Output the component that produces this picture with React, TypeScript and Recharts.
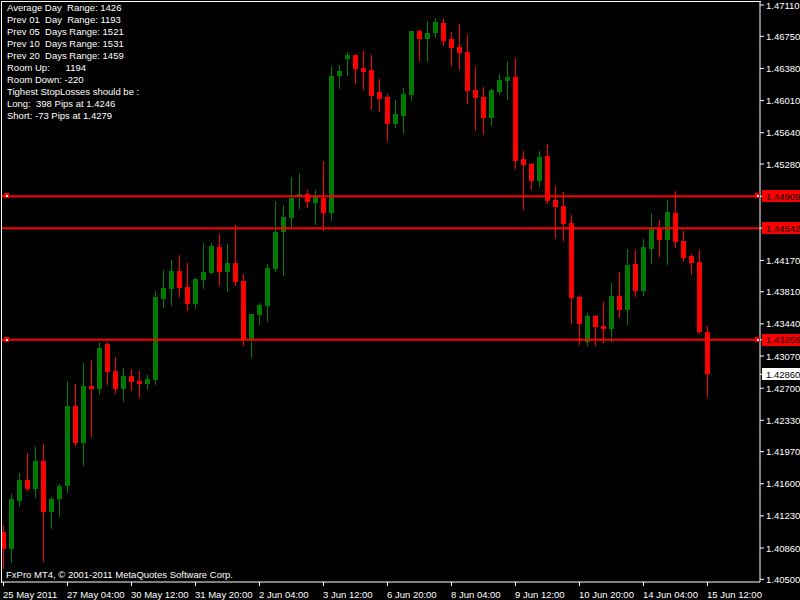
import { ComposedChart, Bar, XAxis, YAxis, ReferenceLine, ReferenceDot } from 'recharts';

// H4 bars, 25 May 2011 20:00 .. 15 Jun 2011 12:00
const opens = [
  1.4105, 1.4085, 1.4140, 1.4164, 1.4154, 1.4186, 1.4128, 1.4142, 1.4157, 1.4249,
  1.4207, 1.4272, 1.4269, 1.4321, 1.4290, 1.4269, 1.4284, 1.4278, 1.4275, 1.4279,
  1.4373, 1.4384, 1.4405, 1.4386, 1.4367, 1.4394, 1.4403, 1.4432, 1.4404, 1.4414,
  1.4393, 1.4327, 1.4354, 1.4365, 1.4407, 1.4450, 1.4466, 1.4490, 1.4493, 1.4483,
  1.4489, 1.4472, 1.4629, 1.4649, 1.4653, 1.4638, 1.4636, 1.4611, 1.4605, 1.4574,
  1.4583, 1.4607, 1.4681, 1.4672, 1.4679, 1.4690, 1.4672, 1.4663, 1.4657, 1.4613,
  1.4605, 1.4581, 1.4611, 1.4624, 1.4628, 1.4534, 1.4528, 1.4508, 1.4537, 1.4487,
  1.4480, 1.4460, 1.4375, 1.4323, 1.4353, 1.4342, 1.4338, 1.4376, 1.4360, 1.4413,
  1.4382, 1.4430, 1.4454, 1.4441, 1.4472, 1.4439, 1.4422, 1.4415, 1.4335,
];
const highs = [
  1.4112, 1.4148, 1.4172, 1.4195, 1.4202, 1.4206, 1.4145, 1.4160, 1.4278, 1.4275,
  1.4299, 1.4302, 1.4323, 1.4323, 1.4306, 1.4293, 1.4292, 1.4290, 1.4285, 1.4382,
  1.4406, 1.4417, 1.4423, 1.4414, 1.4397, 1.4437, 1.4437, 1.4447, 1.4436, 1.4458,
  1.4401, 1.4355, 1.4368, 1.4413, 1.4485, 1.4481, 1.4513, 1.4518, 1.4498, 1.4498,
  1.4531, 1.4641, 1.4642, 1.4657, 1.4653, 1.4658, 1.4653, 1.4626, 1.4609, 1.4602,
  1.4615, 1.4681, 1.4682, 1.4693, 1.4696, 1.4695, 1.4680, 1.4689, 1.4676, 1.4640,
  1.4617, 1.4614, 1.4632, 1.4647, 1.4650, 1.4543, 1.4529, 1.4543, 1.4551, 1.4503,
  1.4496, 1.4469, 1.4376, 1.4356, 1.4354, 1.4369, 1.4391, 1.4404, 1.4430, 1.4429,
  1.4442, 1.4472, 1.4464, 1.4487, 1.4497, 1.4451, 1.4424, 1.4429, 1.4342,
];
const lows = [
  1.4062, 1.4070, 1.4134, 1.4152, 1.4145, 1.4071, 1.4109, 1.4123, 1.4150, 1.4205,
  1.4182, 1.4215, 1.4263, 1.4275, 1.4264, 1.4255, 1.4268, 1.4260, 1.4269, 1.4275,
  1.4363, 1.4365, 1.4376, 1.4360, 1.4363, 1.4385, 1.4403, 1.4388, 1.4382, 1.4389,
  1.4319, 1.4305, 1.4344, 1.4347, 1.4405, 1.4400, 1.4454, 1.4478, 1.4478, 1.4459,
  1.4452, 1.4464, 1.4615, 1.4630, 1.4621, 1.4614, 1.4591, 1.4589, 1.4556, 1.4571,
  1.4563, 1.4602, 1.4648, 1.4647, 1.4674, 1.4665, 1.4642, 1.4637, 1.4598, 1.4567,
  1.4563, 1.4572, 1.4609, 1.4603, 1.4523, 1.4476, 1.4499, 1.4503, 1.4483, 1.4443,
  1.4441, 1.4345, 1.4321, 1.4319, 1.4320, 1.4323, 1.4324, 1.4352, 1.4344, 1.4376,
  1.4377, 1.4414, 1.4422, 1.4413, 1.4432, 1.4416, 1.4401, 1.4333, 1.4262,
];
const closes = [
  1.4085, 1.4142, 1.4164, 1.4154, 1.4186, 1.4128, 1.4142, 1.4157, 1.4249, 1.4207,
  1.4272, 1.4269, 1.4316, 1.4289, 1.4269, 1.4284, 1.4277, 1.4275, 1.4281, 1.4375,
  1.4385, 1.4405, 1.4385, 1.4367, 1.4396, 1.4404, 1.4434, 1.4404, 1.4414, 1.4392,
  1.4327, 1.4355, 1.4366, 1.4408, 1.4450, 1.4467, 1.4489, 1.4493, 1.4484, 1.4490,
  1.4472, 1.4629, 1.4635, 1.4653, 1.4637, 1.4634, 1.4606, 1.4603, 1.4574, 1.4586,
  1.4609, 1.4681, 1.4672, 1.4679, 1.4691, 1.4670, 1.4662, 1.4656, 1.4612, 1.4604,
  1.4581, 1.4613, 1.4625, 1.4628, 1.4531, 1.4527, 1.4508, 1.4536, 1.4485, 1.4478,
  1.4459, 1.4374, 1.4344, 1.4353, 1.4340, 1.4338, 1.4376, 1.4360, 1.4412, 1.4382,
  1.4432, 1.4453, 1.4441, 1.4473, 1.4438, 1.4420, 1.4414, 1.4335, 1.4286,
];

const timeTicks = [
  '25 May 2011', '27 May 04:00', '30 May 12:00', '31 May 20:00', '2 Jun 04:00', '3 Jun 12:00',
  '6 Jun 20:00', '8 Jun 04:00', '9 Jun 12:00', '10 Jun 20:00', '14 Jun 04:00', '15 Jun 12:00',
];
const barsPerTick = 8;

const priceTicks = [
  1.4711, 1.4675, 1.4638, 1.4601, 1.4564, 1.4528, 1.4417, 1.4381, 1.4344,
  1.4307, 1.4270, 1.4233, 1.4197, 1.4160, 1.4123, 1.4086, 1.4050,
];
const levels = [1.44909, 1.44542, 1.43256];
// level lines with the little end markers, and where those markers sit (bar index)
const markedLevels = [1.44909, 1.43256];
const markerBars = [0.25, 94.125];
const lastPrice = 1.4286;

const infoLines = [
  'Average Day  Range: 1426',
  'Prev 01  Day  Range: 1193',
  'Prev 05  Days Range: 1521',
  'Prev 10  Days Range: 1531',
  'Prev 20  Days Range: 1459',
  'Room Up:      1194',
  'Room Down: -220',
  'Tighest StopLosses should be :',
  'Long:  398 Pips at 1.4246',
  'Short: -73 Pips at 1.4279',
];
const copyright = 'FxPro MT4, \u00a9 2001-2011 MetaQuotes Software Corp.';

const FONT = '"Liberation Sans", Arial, sans-serif';
const UP = '#008000';
const DOWN = '#ff0000';

const candles = opens.map((o, i) => ({
  i,
  range: [lows[i], highs[i]],
  open: o,
  high: highs[i],
  low: lows[i],
  close: closes[i],
}));

const Candle = (props: any) => {
  const { x, y, width, height, payload } = props;
  if (!payload) return null;
  const { open, close, high, low } = payload;
  const top = Math.min(y, y + height);
  const h = Math.abs(height);
  const yOf = (p: number) => top + (high === low ? 0 : ((high - p) / (high - low)) * h);
  const cx = Math.floor(x + width / 2);
  const up = close >= open;
  const color = up ? UP : DOWN;
  const bTop = Math.round(yOf(Math.max(open, close)));
  const bBot = Math.round(yOf(Math.min(open, close)));
  return (
    <g shapeRendering="crispEdges">
      <rect x={cx} y={Math.round(top)} width={1} height={Math.max(1, Math.round(h) + 1)} fill={color} />
      <rect x={cx - 2} y={bTop} width={5} height={Math.max(1, bBot - bTop)} fill={up ? '#007a00' : DOWN} />
    </g>
  );
};

const XTick = (props: any) => {
  const { x, y, payload } = props;
  const label = timeTicks[Math.round(payload.value / barsPerTick)];
  return (
    <text x={Math.floor(x)} y={y + 10} fill="#fff" fontSize={9.5} fontFamily={FONT} textAnchor="start">
      {label}
    </text>
  );
};

const YTick = (props: any) => {
  const { x, y, payload } = props;
  const v = payload.value;
  const isLevel = levels.includes(v);
  const isLast = v === lastPrice;
  const txt = v.toFixed(5);
  return (
    <g>
      {(isLevel || isLast) && (
        <rect x={762} y={Math.round(y) - 6} width={38} height={12} fill={isLevel ? '#ff0000' : '#ffffff'} />
      )}
      <text
        x={x}
        y={y + 3.5}
        fill={isLevel || isLast ? '#000' : '#fff'}
        fontSize={9.5}
        fontFamily={FONT}
        textAnchor="start"
      >
        {txt}
      </text>
    </g>
  );
};

const Marker = (props: any) => {
  const { cx, cy } = props;
  const x = Math.round(cx) - 2;
  const y = Math.round(cy) - 3;
  return (
    <g shapeRendering="crispEdges">
      <rect x={x} y={y} width={5} height={5} fill="#ff0000" />
      <rect x={x + 2} y={y + 2} width={2} height={2} fill="#ffffff" />
    </g>
  );
};

export default function App() {
  const xTicks = timeTicks.map((_, k) => k * barsPerTick);
  const yTicks = [...priceTicks, ...levels, lastPrice];
  return (
    <div style={{ position: 'absolute', left: 0, top: 0, width: 800, height: 600, background: '#000', overflow: 'hidden' }}>
      <ComposedChart width={800} height={600} data={candles} margin={{ top: 2, right: 0, bottom: 0, left: 2 }}>
        <XAxis
          type="number"
          dataKey="i"
          domain={[-0.1875, 94.5625]}
          allowDataOverflow
          ticks={xTicks}
          interval={0}
          tick={<XTick />}
          tickSize={4}
          tickLine={{ stroke: '#fff' }}
          axisLine={{ stroke: '#fff' }}
          height={18}
        />
        <YAxis
          orientation="right"
          type="number"
          domain={[1.40469, 1.47145]}
          allowDataOverflow
          ticks={yTicks}
          interval={0}
          tick={<YTick />}
          tickSize={4}
          tickMargin={2}
          tickLine={{ stroke: '#fff' }}
          axisLine={{ stroke: '#fff' }}
          width={40}
        />
        {levels.map((lv) => (
          <ReferenceLine key={lv} y={lv} stroke="#ff0000" strokeWidth={2} />
        ))}
        <Bar dataKey="range" barSize={8} shape={<Candle />} isAnimationActive={false} />
        {markedLevels.map((lv) =>
          markerBars.map((b) => (
            <ReferenceDot key={`${lv}-${b}`} x={b} y={lv} r={3} shape={<Marker />} ifOverflow="visible" />
          ))
        )}
      </ComposedChart>
      <div style={{ position: 'absolute', left: 1, top: 1, width: 760, height: 1, background: '#fff' }} />
      <div style={{ position: 'absolute', left: 1, top: 1, width: 1, height: 582, background: '#fff' }} />
      <div
        style={{
          position: 'absolute',
          left: 7,
          top: 2,
          color: '#fff',
          fontFamily: FONT,
          fontSize: 9.5,
          lineHeight: '12px',
          whiteSpace: 'pre',
        }}
      >
        {infoLines.map((t) => (
          <div key={t}>{t}</div>
        ))}
      </div>
      <div
        style={{
          position: 'absolute',
          left: 6,
          top: 569,
          color: '#fff',
          fontFamily: FONT,
          fontSize: 9.5,
          lineHeight: '12px',
          whiteSpace: 'pre',
        }}
      >
        {copyright}
      </div>
    </div>
  );
}
